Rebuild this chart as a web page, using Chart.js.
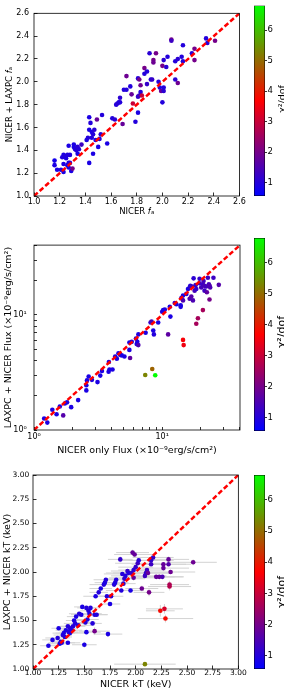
<!DOCTYPE html>
<html>
<head>
<meta charset="utf-8">
<script src="https://cdn.jsdelivr.net/npm/chart.js@4.4.1/dist/chart.umd.min.js"></script>
<style>
  html, body { margin: 0; padding: 0; background: #fff; }
  body { width: 284px; height: 689px; position: relative; overflow: hidden; font-family: 'DejaVu Sans'; }
  canvas { position: absolute; }
  .cbl { position: absolute; white-space: nowrap; color: #000; font-family: 'DejaVu Sans';
         transform: translate(-50%, -50%) rotate(-90deg); }
</style>
</head>
<body>
<canvas id="c1" width="250" height="230" style="left:0;top:0"></canvas>
<canvas id="cb1" width="34" height="230" style="left:250px;top:0"></canvas>
<canvas id="c2" width="250" height="230" style="left:0;top:230px"></canvas>
<canvas id="cb2" width="34" height="230" style="left:250px;top:230px"></canvas>
<canvas id="c3" width="250" height="231" style="left:0;top:460px"></canvas>
<canvas id="cb3" width="34" height="231" style="left:250px;top:460px"></canvas>
<div class="cbl" style="left:281px;top:99px;font-size:9.5px">χ²/dof</div>
<div class="cbl" style="left:281px;top:332px;font-size:11px">χ²/dof</div>
<div class="cbl" style="left:281px;top:592px;font-size:11px">χ²/dof</div>
<script>
// colour bar range (chi2/dof) and its ticks
const cbMin = 0.57;
const cbMax = 6.8;
const cbTicks = [1, 2, 3, 4, 5, 6];

// panel 1 : covering fraction f_a
const p1x = [1.16,1.16,1.18,1.21,1.22,1.23,1.24,1.25,1.23,1.23,
  1.26,1.26,1.27,1.27,1.28,1.28,1.27,1.29,1.30,1.31,
  1.31,1.32,1.33,1.34,1.34,1.35,1.37,1.41,1.42,1.43,
  1.43,1.44,1.45,1.45,1.46,1.47,1.48,1.49,1.50,1.51,
  1.52,1.53,1.43,1.46,1.57,1.61,1.63,1.64,1.65,1.66,
  1.67,1.67,1.69,1.70,1.72,1.72,1.75,1.76,1.77,1.79,
  1.81,1.81,1.81,1.82,1.83,1.82,1.83,1.84,1.86,1.86,
  1.88,1.88,1.90,1.91,1.92,1.93,1.93,1.95,1.97,1.98,
  1.99,2.01,2.00,2.01,2.01,2.00,2.04,2.03,2.07,2.07,
  2.10,2.10,2.12,2.12,2.15,2.16,2.16,2.23,2.25,2.25,
  2.34,2.35,2.41];
const p1y = [1.31,1.27,1.23,1.23,1.34,1.36,1.35,1.33,1.28,1.21,
  1.36,1.27,1.29,1.44,1.36,1.29,1.25,1.22,1.24,1.43,
  1.45,1.41,1.40,1.43,1.37,1.41,1.45,1.49,1.51,1.58,
  1.69,1.64,1.56,1.51,1.54,1.58,1.49,1.67,1.43,1.50,
  1.54,1.71,1.29,1.37,1.46,1.68,1.67,1.80,1.81,1.82,
  1.86,1.82,1.63,1.93,2.05,1.93,1.96,1.89,1.81,1.65,
  2.03,1.73,1.87,1.88,1.91,2.02,1.97,1.88,2.07,2.12,
  1.98,2.09,2.25,2.02,2.02,2.19,2.17,2.25,2.00,1.95,
  1.92,1.92,1.82,1.95,2.19,2.14,2.22,2.13,2.37,2.36,
  2.18,2.02,2.20,1.99,2.22,2.18,2.32,2.25,2.29,2.19,
  2.38,2.34,2.36];
const p1chi = [0.8,0.9,0.9,0.9,1.0,0.9,1.0,0.9,0.9,0.9,
  1.0,0.9,1.0,0.9,1.0,1.1,0.9,0.9,2.0,0.9,
  0.9,1.0,1.0,1.1,0.9,1.0,1.3,0.9,1.0,0.9,
  0.9,1.0,0.9,1.0,1.0,1.1,0.9,1.8,0.9,1.0,
  1.0,1.0,0.9,0.9,0.9,1.0,1.1,1.0,1.1,1.0,
  1.1,1.0,1.8,1.0,1.9,1.0,1.0,1.8,3.0,1.0,
  1.0,0.9,1.2,1.3,1.0,2.0,1.9,3.0,1.0,2.0,
  1.2,1.0,1.1,1.1,1.2,2.0,1.9,2.0,1.0,1.0,
  1.8,1.1,1.0,1.0,1.1,2.0,1.0,1.1,2.0,1.3,
  1.0,1.1,1.1,1.9,1.0,1.0,1.0,1.0,2.0,2.0,
  1.0,1.0,2.0];
const p1Ticks = [1.0,1.2,1.4,1.6,1.8,2.0,2.2,2.4,2.6];

// panel 2 : flux (1e-9 erg/s/cm2)
const p2x = [1.20,1.27,1.39,1.50,1.69,1.59,1.74,1.81,1.95,2.21,
  2.56,2.56,2.59,2.67,2.83,3.13,3.29,3.39,3.82,3.84,
  3.88,4.10,4.30,4.43,4.56,4.70,4.84,5.08,5.55,5.62,
  5.55,5.79,6.25,6.40,6.52,6.33,6.52,7.43,8.12,8.27,
  8.52,8.62,9.31,10.0,10.18,10.49,11.13,11.47,11.60,12.54,
  12.91,13.95,13.95,14.12,14.55,14.55,15.44,15.91,16.39,16.39,
  16.88,17.39,17.60,16.58,17.18,18.24,17.92,18.46,19.59,19.59,
  20.18,20.79,21.04,21.42,21.42,22.07,22.34,22.74,23.14,23.42,
  23.70,25.14,23.42,27.67,18.46,19.02,20.79,14.55,14.72,7.38,
  8.37,8.83];
const p2y = [1.26,1.16,1.50,1.37,1.34,1.60,1.70,1.74,1.58,1.82,
  2.21,2.45,2.70,2.92,2.73,2.61,2.97,3.26,3.21,3.90,
  3.36,3.36,4.36,4.17,4.65,4.50,4.45,4.36,4.97,4.22,
  5.76,5.84,6.23,5.84,6.78,5.58,5.47,7.00,8.61,8.78,
  7.33,6.78,8.61,10.67,11.02,11.17,6.78,11.76,9.68,12.72,
  12.39,12.15,11.76,14.01,13.39,14.76,15.25,16.81,17.36,13.83,
  14.47,13.39,20.82,17.92,17.70,18.17,16.27,16.81,20.68,18.88,
  17.36,18.52,19.76,17.92,16.27,17.70,15.75,21.09,18.52,17.92,
  17.36,21.09,13.65,18.28,8.39,9.37,11.02,6.07,5.47,3.01,
  3.39,2.99];
const p2chi = [0.9,0.9,0.9,0.9,1.6,0.9,0.9,0.9,0.9,0.9,
  0.9,0.9,0.9,0.9,0.9,0.9,0.9,0.9,0.9,0.9,
  0.9,0.9,0.9,0.9,0.9,1.2,0.9,0.9,0.9,1.7,
  0.9,0.9,0.9,0.9,0.9,0.9,1.5,0.9,1.2,1.4,
  0.9,1.0,0.9,0.9,0.9,0.9,1.7,0.9,0.9,1.5,
  0.9,0.9,0.9,0.9,1.5,0.9,0.9,0.9,1.0,1.5,
  1.6,1.5,1.1,1.1,1.3,1.2,1.4,1.2,1.2,1.3,
  1.4,1.3,1.4,1.5,1.3,1.4,1.7,1.3,1.4,1.6,
  1.5,1.3,2.0,1.6,2.6,2.6,2.6,3.6,3.5,5.3,
  4.9,6.8];
const p2Ticks = [1,2,3,4,5,6,7,8,9,10,20,30,40];
const p2Max = 40.5;

// panel 3 : kT (keV) with errors
const p3x = [1.15,1.19,1.25,1.24,1.26,1.27,1.28,1.29,1.30,1.31,
  1.32,1.34,1.34,1.35,1.36,1.36,1.38,1.39,1.40,1.41,
  1.42,1.44,1.47,1.48,1.50,1.51,1.52,1.52,1.53,1.54,
  1.55,1.56,1.58,1.60,1.60,1.62,1.61,1.64,1.66,1.69,
  1.70,1.71,1.72,1.73,1.75,1.76,1.79,1.80,1.81,1.85,
  1.86,1.87,1.88,1.89,1.90,1.92,1.93,1.95,1.96,1.97,
  1.99,1.98,1.98,2.00,2.02,2.03,2.06,2.09,2.10,2.11,
  2.12,2.13,2.15,2.15,2.17,2.20,2.23,2.24,2.26,2.27,
  2.27,2.28,2.29,2.32,2.32,2.33,2.33,2.34,2.56,2.09,
  1.45];
const p3y = [1.24,1.30,1.42,1.32,1.26,1.28,1.27,1.35,1.37,1.33,
  1.40,1.44,1.27,1.38,1.37,1.42,1.40,1.44,1.50,1.47,
  1.54,1.45,1.56,1.64,1.25,1.48,1.38,1.63,1.51,1.60,
  1.57,1.63,1.47,1.56,1.39,1.56,1.75,1.79,1.83,1.87,
  1.89,1.92,1.75,1.36,1.67,1.75,1.87,1.89,1.92,2.13,
  1.81,1.98,1.88,1.93,1.96,2.01,1.99,1.81,1.99,2.20,
  2.18,2.02,1.94,2.05,2.09,2.12,1.83,1.96,1.99,2.02,
  1.99,1.79,2.08,2.12,2.15,1.95,1.95,1.60,1.95,2.08,
  2.04,1.62,1.52,2.13,2.08,1.85,1.87,2.00,2.10,1.05,
  1.57];
const p3xErr = [0.08,0.10,0.07,0.12,0.10,0.08,0.13,0.09,0.11,0.07,
  0.10,0.08,0.12,0.09,0.14,0.07,0.10,0.12,0.08,0.11,
  0.09,0.13,0.10,0.08,0.12,0.10,0.14,0.09,0.11,0.08,
  0.12,0.10,0.09,0.13,0.15,0.10,0.12,0.09,0.11,0.14,
  0.10,0.12,0.08,0.14,0.10,0.12,0.11,0.13,0.09,0.12,
  0.15,0.18,0.12,0.20,0.14,0.16,0.22,0.13,0.18,0.16,
  0.20,0.15,0.24,0.17,0.22,0.19,0.16,0.21,0.25,0.18,
  0.23,0.15,0.19,0.22,0.20,0.18,0.24,0.14,0.20,0.22,
  0.25,0.18,0.27,0.20,0.22,0.21,0.19,0.24,0.23,0.30,
  0.10];
const p3yErr = [0.02,0.02,0.01,0.02,0.02,0.01,0.02,0.02,0.01,0.02,
  0.02,0.01,0.02,0.02,0.01,0.02,0.02,0.01,0.02,0.02,
  0.02,0.01,0.02,0.02,0.03,0.02,0.02,0.01,0.02,0.02,
  0.02,0.01,0.02,0.02,0.04,0.02,0.02,0.02,0.02,0.02,
  0.02,0.02,0.02,0.03,0.02,0.02,0.02,0.02,0.02,0.03,
  0.02,0.02,0.02,0.03,0.02,0.02,0.02,0.02,0.02,0.03,
  0.03,0.02,0.03,0.02,0.02,0.02,0.03,0.02,0.02,0.02,
  0.02,0.04,0.02,0.02,0.02,0.02,0.02,0.06,0.02,0.02,
  0.02,0.05,0.04,0.03,0.02,0.04,0.04,0.02,0.03,0.02,
  0.02];
const p3chi = [0.9,0.9,0.9,1.0,0.9,1.0,0.9,1.0,0.9,1.0,
  0.9,1.0,0.9,1.0,0.9,1.0,0.9,1.0,0.9,1.0,
  0.9,1.0,0.9,0.9,0.9,1.0,0.9,1.0,0.9,1.0,
  0.9,1.0,1.0,1.0,2.0,1.0,0.9,1.0,0.9,1.0,
  0.9,1.0,1.0,0.9,0.9,1.0,1.0,0.9,1.0,1.2,
  1.0,1.0,1.0,1.2,1.0,1.2,1.0,0.9,1.2,1.8,
  1.8,1.1,1.8,1.2,1.3,1.1,1.9,1.3,1.2,1.3,
  1.8,2.0,1.3,1.2,1.2,1.8,1.8,3.8,1.5,1.8,
  1.8,3.2,3.8,1.8,1.6,2.8,2.7,1.9,1.9,5.3,
  1.0];
const p3Ticks = [1.00,1.25,1.50,1.75,2.00,2.25,2.50,2.75,3.00];

const FONT = 'DejaVu Sans';

// matplotlib "brg" colormap: blue -> red -> green
function brg(v) {
  let t = (v - cbMin) / (cbMax - cbMin);
  t = Math.max(0, Math.min(1, t));
  let r, g, b;
  if (t < 0.5) { r = 2 * t; g = 0; b = 1 - 2 * t; }
  else { r = 2 - 2 * t; g = 2 * t - 1; b = 0; }
  return 'rgb(' + Math.round(r * 255) + ',' + Math.round(g * 255) + ',' + Math.round(b * 255) + ')';
}

// full box around the plot area
const framePlugin = {
  id: 'frame',
  afterDatasetsDraw(chart) {
    const a = chart.chartArea;
    const ctx = chart.ctx;
    ctx.save();
    ctx.strokeStyle = '#000';
    ctx.lineWidth = 0.8;
    ctx.strokeRect(a.left, a.top, a.right - a.left, a.bottom - a.top);
    ctx.restore();
  }
};

// grey x / y error bars, drawn below the points
const errorBarPlugin = {
  id: 'errorBars',
  beforeDatasetsDraw(chart, args, opts) {
    if (!opts || !opts.x) return;
    const { ctx, chartArea: a } = chart;
    const xs = chart.scales.x, ys = chart.scales.y;
    ctx.save();
    ctx.beginPath();
    ctx.rect(a.left, a.top, a.right - a.left, a.bottom - a.top);
    ctx.clip();
    ctx.strokeStyle = '#d3d3d3';
    ctx.lineWidth = 1;
    opts.x.forEach((v, i) => {
      const px = xs.getPixelForValue(v);
      const py = ys.getPixelForValue(opts.y[i]);
      ctx.beginPath();
      ctx.moveTo(xs.getPixelForValue(v - opts.xerr[i]), py);
      ctx.lineTo(xs.getPixelForValue(v + opts.xerr[i]), py);
      ctx.moveTo(px, ys.getPixelForValue(opts.y[i] - opts.yerr[i]));
      ctx.lineTo(px, ys.getPixelForValue(opts.y[i] + opts.yerr[i]));
      ctx.stroke();
    });
    ctx.restore();
  }
};

function axis(c) {
  return {
    type: c.type,
    position: c.position,
    min: c.min,
    max: c.max,
    afterBuildTicks: s => { s.ticks = c.ticks.map(v => ({ value: v })); },
    afterFit: s => { if (c.position === 'bottom') s.height = c.size; else s.width = c.size; },
    grid: { display: true, drawOnChartArea: false, drawTicks: true, tickLength: c.tl, tickColor: '#000', tickWidth: 0.8 },
    border: { display: false },
    ticks: { autoSkip: false, maxRotation: 0, padding: c.pad, color: '#000',
             font: { family: FONT, size: c.tickSize }, callback: c.fmt },
    title: { display: true, text: c.title, color: '#000', padding: 0,
             font: { family: FONT, size: c.titleSize } }
  };
}

function makePanel(id, p) {
  return new Chart(document.getElementById(id), {
    type: 'scatter',
    data: {
      datasets: [
        { type: 'line', data: p.diag.map(v => ({ x: v, y: v })), borderColor: '#ff0000',
          borderWidth: 2.5, borderDash: [5, 2.5], pointRadius: 0, fill: false, order: 0 },
        { data: p.x.map((v, i) => ({ x: v, y: p.y[i] })), backgroundColor: p.chi.map(brg),
          pointRadius: 2.3, borderWidth: 0, order: 1 }
      ]
    },
    options: {
      responsive: false,
      animation: false,
      events: [],
      layout: { padding: p.padding, autoPadding: false },
      plugins: { legend: { display: false }, tooltip: { enabled: false }, errorBars: p.err || {} },
      scales: { x: axis(p.xAxis), y: axis(p.yAxis) }
    },
    plugins: [framePlugin, errorBarPlugin]
  });
}

function makeColorbar(id, padding) {
  return new Chart(document.getElementById(id), {
    type: 'bar',
    data: {
      labels: [''],
      datasets: [{
        data: [[cbMin, cbMax]],
        backgroundColor: ctx => {
          const area = ctx.chart.chartArea;
          if (!area) return '#ff0000';
          const g = ctx.chart.ctx.createLinearGradient(0, area.bottom, 0, area.top);
          g.addColorStop(0, 'rgb(0,0,255)');
          g.addColorStop(0.5, 'rgb(255,0,0)');
          g.addColorStop(1, 'rgb(0,255,0)');
          return g;
        },
        borderColor: '#000', borderWidth: 0.8, borderSkipped: false,
        barPercentage: 1, categoryPercentage: 1
      }]
    },
    options: {
      responsive: false,
      animation: false,
      events: [],
      layout: { padding: padding, autoPadding: false },
      plugins: { legend: { display: false }, tooltip: { enabled: false } },
      scales: {
        x: { display: false },
        y: {
          position: 'right', min: cbMin, max: cbMax,
          afterBuildTicks: s => { s.ticks = cbTicks.map(v => ({ value: v })); },
          afterFit: s => { s.width = 19; },
          grid: { drawOnChartArea: false, tickLength: 2, tickColor: '#000', tickWidth: 0.8 },
          border: { display: false },
          ticks: { padding: 0.5, color: '#000', font: { family: FONT, size: 8.5 } }
        }
      }
    }
  });
}

const fmt1 = v => v.toFixed(1);
const fmt2 = v => v.toFixed(2);
const fmtLog = v => (v === 1 ? '10⁰' : v === 10 ? '10¹' : '');

makePanel('c1', {
  x: p1x, y: p1y, chi: p1chi, diag: [1.0, 2.6],
  padding: { left: 4.9, top: 3, right: 10, bottom: 12.9 },
  xAxis: { type: 'linear', position: 'bottom', min: 1.0, max: 2.6, ticks: p1Ticks, size: 21.1,
           tl: -3.5, pad: 4.2, tickSize: 8, fmt: fmt1, title: 'NICER 𝑓ₐ', titleSize: 8.5 },
  yAxis: { type: 'linear', position: 'left', min: 1.0, max: 2.6, ticks: p1Ticks, size: 29.1,
           tl: -3.5, pad: 8.5, tickSize: 8, fmt: fmt1, title: 'NICER + LAXPC 𝑓ₐ', titleSize: 8.5 }
});

makePanel('c2', {
  x: p2x, y: p2y, chi: p2chi, diag: [1, p2Max],
  padding: { left: 2.6, top: 8, right: 10, bottom: 3.3 },
  xAxis: { type: 'logarithmic', position: 'bottom', min: 1, max: p2Max, ticks: p2Ticks, size: 26.7,
           tl: -3, pad: 5.2, tickSize: 8, fmt: fmtLog, title: 'NICER only Flux (×10⁻⁹erg/s/cm²)', titleSize: 9.5 },
  yAxis: { type: 'logarithmic', position: 'left', min: 1, max: p2Max, ticks: p2Ticks, size: 31.4,
           tl: -3, pad: 10.3, tickSize: 8, fmt: fmtLog, title: 'LAXPC + NICER Flux (×10⁻⁹erg/s/cm²)', titleSize: 9.5 }
});

makePanel('c3', {
  x: p3x, y: p3y, chi: p3chi, diag: [1.0, 3.0],
  err: { x: p3x, y: p3y, xerr: p3xErr, yerr: p3yErr },
  padding: { left: 1.6, top: 15, right: 10, bottom: 0.3 },
  xAxis: { type: 'linear', position: 'bottom', min: 1.0, max: 3.0, ticks: p3Ticks, size: 21.7,
           tl: -3.5, pad: 3.3, tickSize: 7.5, fmt: fmt2, title: 'NICER kT (keV)', titleSize: 9.5 },
  yAxis: { type: 'linear', position: 'left', min: 1.0, max: 3.0, ticks: p3Ticks, size: 31.4,
           tl: -3.5, pad: 7.2, tickSize: 7.5, fmt: fmt2, title: 'LAXPC + NICER kT (keV)', titleSize: 9.5 }
});

makeColorbar('cb1', { left: 4, top: 3, right: 0, bottom: 34 });
makeColorbar('cb2', { left: 4, top: 8, right: 0, bottom: 29 });
makeColorbar('cb3', { left: 4, top: 15, right: 0, bottom: 22 });
</script>
</body>
</html>
